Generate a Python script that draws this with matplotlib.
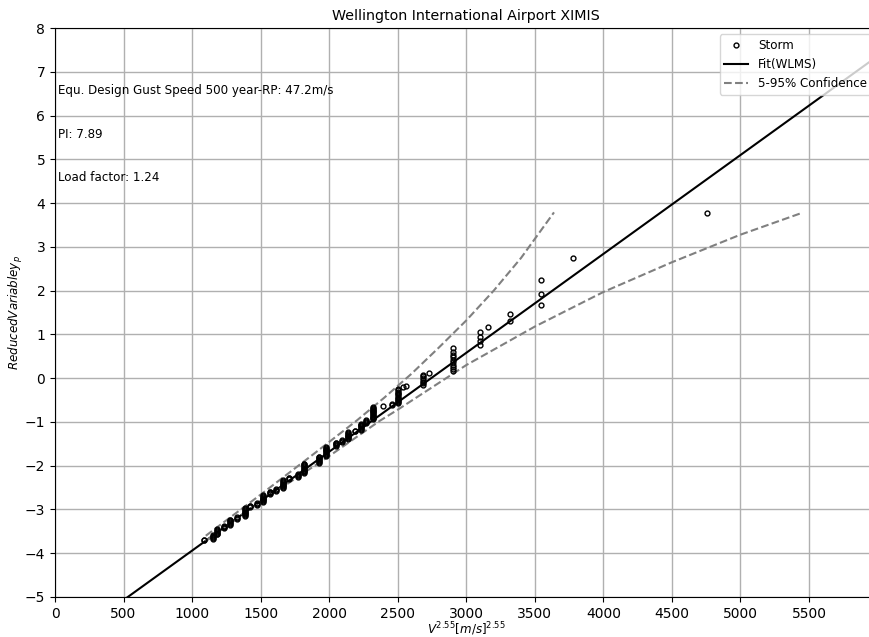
from matplotlib import pyplot as plt

# storm points: V^2.55 and reduced variate
storm_x = [4756, 3781, 3543, 3543, 3543, 3319, 3319, 3156,
           3100, 3100, 3100, 3100,
           2900, 2900, 2900, 2900, 2900, 2900, 2900, 2900, 2900, 2900,
           2731, 2687, 2687, 2687, 2687, 2687, 2687, 2687, 2560, 2541,
           2504, 2504, 2504, 2504, 2504, 2504, 2504, 2504, 2504, 2504, 2504, 2504, 2504,
           2456, 2456, 2390,
           2322, 2322, 2322, 2322, 2322, 2322, 2322, 2322, 2322, 2322, 2322, 2322, 2322, 2322, 2322,
           2270, 2270, 2270, 2270,
           2235, 2235, 2235, 2235, 2235, 2235, 2235, 2235,
           2190, 2190,
           2140, 2140, 2140, 2140, 2140, 2140, 2140, 2140, 2140,
           2095, 2095, 2095,
           2050, 2050, 2050, 2050, 2050,
           1975, 1975, 1975, 1975, 1975, 1975, 1975, 1975, 1975, 1975, 1975,
           1925, 1925, 1925, 1925, 1925, 1925, 1925, 1925,
           1815, 1815, 1815, 1815, 1815, 1815, 1815, 1815, 1815, 1815, 1815, 1815,
           1775, 1775, 1775, 1775,
           1705, 1705, 1705,
           1665, 1665, 1665, 1665, 1665, 1665, 1665, 1665, 1665, 1665,
           1615, 1615, 1615,
           1565, 1565, 1565, 1565,
           1520, 1520, 1520, 1520, 1520, 1520, 1520, 1520, 1520,
           1470, 1470, 1470,
           1420, 1420, 1420,
           1385, 1385, 1385, 1385, 1385, 1385, 1385, 1385, 1385, 1385,
           1330, 1330, 1330,
           1280, 1280, 1280, 1280, 1280, 1280, 1280,
           1235, 1235, 1235, 1235,
           1180, 1180, 1180, 1180, 1180, 1180, 1180,
           1150, 1150, 1150, 1150, 1150,
           1085, 1085]
storm_y = [3.77, 2.75, 2.25, 1.92, 1.67, 1.47, 1.31, 1.17,
           1.05, 0.94, 0.85, 0.76,
           0.68, 0.61, 0.54, 0.48, 0.42, 0.36, 0.31, 0.26, 0.21, 0.16,
           0.12, 0.08, 0.04, 0.00, -0.04, -0.08, -0.11, -0.15, -0.18, -0.21,
           -0.25, -0.28, -0.31, -0.34, -0.37, -0.39, -0.42, -0.45, -0.47, -0.50, -0.52, -0.55, -0.57,
           -0.59, -0.62, -0.64,
           -0.66, -0.68, -0.70, -0.72, -0.74, -0.76, -0.78, -0.80, -0.82, -0.84, -0.86, -0.88, -0.90, -0.92, -0.94,
           -0.96, -0.98, -1.00, -1.02,
           -1.04, -1.06, -1.08, -1.10, -1.12, -1.14, -1.16, -1.18,
           -1.20, -1.21,
           -1.23, -1.25, -1.27, -1.29, -1.31, -1.33, -1.35, -1.37, -1.39,
           -1.41, -1.43, -1.45,
           -1.47, -1.49, -1.51, -1.53, -1.55,
           -1.57, -1.59, -1.61, -1.63, -1.65, -1.67, -1.69, -1.71, -1.73, -1.75, -1.77,
           -1.79, -1.81, -1.83, -1.85, -1.87, -1.89, -1.91, -1.93,
           -1.95, -1.97, -1.99, -2.01, -2.03, -2.05, -2.07, -2.09, -2.11, -2.13, -2.15, -2.17,
           -2.19, -2.21, -2.23, -2.25,
           -2.27, -2.29, -2.31,
           -2.33, -2.35, -2.37, -2.39, -2.41, -2.43, -2.45, -2.47, -2.49, -2.51,
           -2.53, -2.55, -2.57,
           -2.59, -2.61, -2.63, -2.65,
           -2.67, -2.69, -2.71, -2.73, -2.75, -2.77, -2.79, -2.81, -2.83,
           -2.85, -2.87, -2.89,
           -2.91, -2.93, -2.95,
           -2.97, -2.99, -3.01, -3.03, -3.05, -3.07, -3.09, -3.11, -3.13, -3.15,
           -3.17, -3.19, -3.21,
           -3.23, -3.25, -3.27, -3.29, -3.31, -3.33, -3.35,
           -3.37, -3.39, -3.41, -3.43,
           -3.45, -3.47, -3.49, -3.51, -3.53, -3.55, -3.57,
           -3.59, -3.61, -3.63, -3.65, -3.67,
           -3.69, -3.70]

# WLMS fit line (slope, intercept)
fit_a = 0.00226
fit_b = -6.2
fit_x = [0, 6000]

# 5-95% confidence band
upper_x = [1100, 1500, 1900, 2200, 2400, 2600, 2800, 3000, 3200, 3400, 3550, 3640]
upper_y = [-3.6, -2.66, -1.7, -0.97, -0.45, 0.1, 0.7, 1.32, 2.0, 2.75, 3.4, 3.79]
lower_x = [1100, 1500, 2000, 2371, 2500, 3000, 3500, 4000, 4500, 5000, 5450]
lower_y = [-3.72, -2.82, -1.78, -0.97, -0.72, 0.3, 1.18, 1.97, 2.65, 3.28, 3.78]

gust_500 = 47.2
pi_val = 7.89
load_factor = 1.24

fs = 8.6

fig = plt.figure(figsize=(8.69, 6.37), dpi=100)
# the axes run a little past the right edge of the picture, as in the original
ax = fig.add_axes([0.0633, 0.0628, 0.9465, 0.893])

ax.plot(storm_x, storm_y, 'o', mfc='none', mec='k', ms=3.5, mew=1, label='Storm', zorder=3)
ax.plot(fit_x, [fit_a * x + fit_b for x in fit_x], color='k', lw=1.5, label='Fit(WLMS)', zorder=2)
ax.plot(upper_x, upper_y, '--', color='grey', lw=1.5, label='5-95% Confidence', zorder=2)
ax.plot(lower_x, lower_y, '--', color='grey', lw=1.5, zorder=2)

ax.text(20, 6.5, 'Equ. Design Gust Speed 500 year-RP: %.1fm/s' % gust_500, fontsize=fs)
ax.text(20, 5.5, 'PI: %.2f' % pi_val, fontsize=fs)
ax.text(20, 4.5, 'Load factor: %.2f' % load_factor, fontsize=fs)

ax.set_xlim(0, 6000)
ax.set_ylim(-5, 8)
ax.set_xticks(range(0, 5501, 500))
ax.set_yticks(range(-5, 9))
ax.grid(color='#b0b0b0', linewidth=1)
ax.set_axisbelow(True)

ax.set_title('Wellington International Airport XIMIS', fontsize=10.3)
ax.set_xlabel(r'$V^{2.55} [m/s]^{2.55}$', fontsize=fs, labelpad=0)
ax.set_ylabel(r'$Reduced Variable y_p$', fontsize=fs, labelpad=0)
ax.legend(loc='upper right', fontsize=fs)

fig.savefig('out.png', dpi=100)
